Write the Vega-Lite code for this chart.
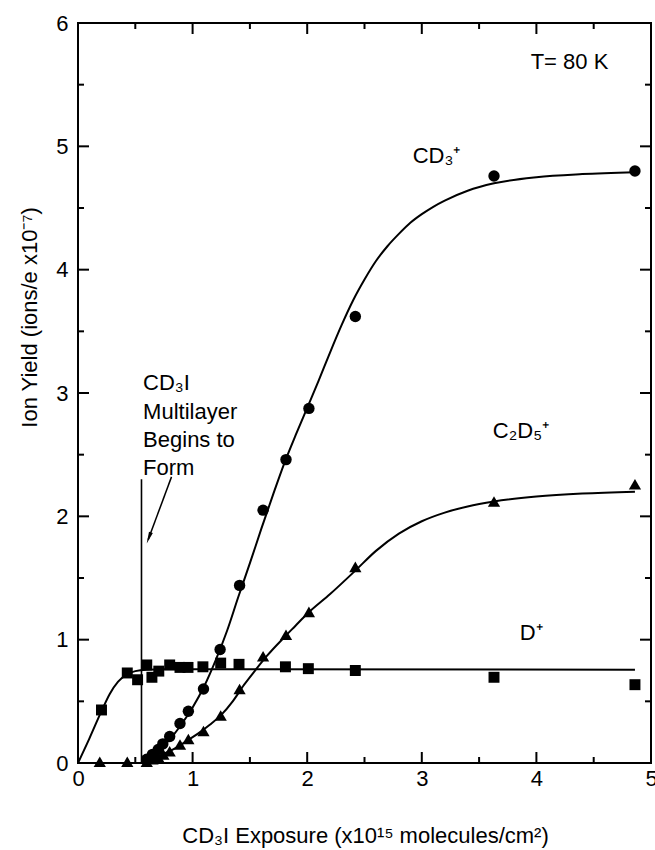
{
  "$schema": "https://vega.github.io/schema/vega-lite/v6.json",
  "width": 573,
  "height": 740,
  "autosize": {"type": "none"},
  "padding": {"left": 78, "top": 23, "right": 4, "bottom": 87},
  "background": "white",
  "config": {
    "view": {"stroke": "black", "strokeWidth": 2},
    "font": "Liberation Sans",
    "axis": {
      "grid": false,
      "domain": false,
      "ticks": false,
      "labelFlush": false,
      "labelFont": "Liberation Sans",
      "labelFontSize": 22,
      "labelColor": "black",
      "titleFont": "Liberation Sans",
      "titleFontSize": 22,
      "titleFontWeight": "normal",
      "titleColor": "black"
    }
  },
  "datasets": {
    "xt": [
      {"v": 0, "e": 0, "k": "major"}, {"v": 0.5, "e": 0, "k": "minor"}, {"v": 1, "e": 0, "k": "major"}, {"v": 1.5, "e": 0, "k": "minor"},
      {"v": 2, "e": 0, "k": "major"}, {"v": 2.5, "e": 0, "k": "minor"}, {"v": 3, "e": 0, "k": "major"}, {"v": 3.5, "e": 0, "k": "minor"},
      {"v": 4, "e": 0, "k": "major"}, {"v": 4.5, "e": 0, "k": "minor"}, {"v": 5, "e": 0, "k": "major"},
      {"v": 0, "e": 6, "k": "major"}, {"v": 0.5, "e": 6, "k": "minor"}, {"v": 1, "e": 6, "k": "major"}, {"v": 1.5, "e": 6, "k": "minor"},
      {"v": 2, "e": 6, "k": "major"}, {"v": 2.5, "e": 6, "k": "minor"}, {"v": 3, "e": 6, "k": "major"}, {"v": 3.5, "e": 6, "k": "minor"},
      {"v": 4, "e": 6, "k": "major"}, {"v": 4.5, "e": 6, "k": "minor"}, {"v": 5, "e": 6, "k": "major"}
    ],
    "yt": [
      {"v": 0, "e": 0, "k": "major"}, {"v": 0.5, "e": 0, "k": "minor"}, {"v": 1, "e": 0, "k": "major"}, {"v": 1.5, "e": 0, "k": "minor"},
      {"v": 2, "e": 0, "k": "major"}, {"v": 2.5, "e": 0, "k": "minor"}, {"v": 3, "e": 0, "k": "major"}, {"v": 3.5, "e": 0, "k": "minor"},
      {"v": 4, "e": 0, "k": "major"}, {"v": 4.5, "e": 0, "k": "minor"}, {"v": 5, "e": 0, "k": "major"}, {"v": 5.5, "e": 0, "k": "minor"},
      {"v": 6, "e": 0, "k": "major"},
      {"v": 0, "e": 5, "k": "major"}, {"v": 0.5, "e": 5, "k": "minor"}, {"v": 1, "e": 5, "k": "major"}, {"v": 1.5, "e": 5, "k": "minor"},
      {"v": 2, "e": 5, "k": "major"}, {"v": 2.5, "e": 5, "k": "minor"}, {"v": 3, "e": 5, "k": "major"}, {"v": 3.5, "e": 5, "k": "minor"},
      {"v": 4, "e": 5, "k": "major"}, {"v": 4.5, "e": 5, "k": "minor"}, {"v": 5, "e": 5, "k": "major"}, {"v": 5.5, "e": 5, "k": "minor"},
      {"v": 6, "e": 5, "k": "major"}
    ],
    "dplus": [
      {"x": 0.205, "y": 0.43}, {"x": 0.43, "y": 0.73}, {"x": 0.52, "y": 0.675},
      {"x": 0.6, "y": 0.795}, {"x": 0.645, "y": 0.695}, {"x": 0.705, "y": 0.745},
      {"x": 0.8, "y": 0.795}, {"x": 0.89, "y": 0.775}, {"x": 0.96, "y": 0.775},
      {"x": 1.09, "y": 0.78}, {"x": 1.245, "y": 0.81}, {"x": 1.405, "y": 0.8},
      {"x": 1.81, "y": 0.78}, {"x": 2.01, "y": 0.765}, {"x": 2.42, "y": 0.75},
      {"x": 3.63, "y": 0.695}, {"x": 4.86, "y": 0.635}
    ],
    "cd3": [
      {"x": 0.6, "y": 0.03}, {"x": 0.65, "y": 0.07}, {"x": 0.7, "y": 0.11},
      {"x": 0.74, "y": 0.155}, {"x": 0.8, "y": 0.215}, {"x": 0.89, "y": 0.32},
      {"x": 0.963, "y": 0.42}, {"x": 1.095, "y": 0.6}, {"x": 1.24, "y": 0.92},
      {"x": 1.41, "y": 1.44}, {"x": 1.615, "y": 2.05}, {"x": 1.815, "y": 2.46},
      {"x": 2.015, "y": 2.875}, {"x": 2.42, "y": 3.62}, {"x": 3.63, "y": 4.76},
      {"x": 4.86, "y": 4.8}
    ],
    "c2d5": [
      {"x": 0.19, "y": 0.01}, {"x": 0.43, "y": 0.01}, {"x": 0.6, "y": 0.01},
      {"x": 0.65, "y": 0.03}, {"x": 0.7, "y": 0.05}, {"x": 0.745, "y": 0.07},
      {"x": 0.8, "y": 0.095}, {"x": 0.89, "y": 0.15}, {"x": 0.963, "y": 0.195},
      {"x": 1.095, "y": 0.26}, {"x": 1.245, "y": 0.385}, {"x": 1.41, "y": 0.6},
      {"x": 1.615, "y": 0.865}, {"x": 1.815, "y": 1.04}, {"x": 2.015, "y": 1.225},
      {"x": 2.42, "y": 1.59}, {"x": 3.63, "y": 2.12}, {"x": 4.86, "y": 2.26}
    ],
    "curves": [
      {"s": "D", "x": 0, "y": 0}, {"s": "D", "x": 0.1, "y": 0.2}, {"s": "D", "x": 0.2, "y": 0.41},
      {"s": "D", "x": 0.277, "y": 0.56}, {"s": "D", "x": 0.35, "y": 0.66}, {"s": "D", "x": 0.42, "y": 0.715},
      {"s": "D", "x": 0.5, "y": 0.745}, {"s": "D", "x": 0.6, "y": 0.757}, {"s": "D", "x": 0.75, "y": 0.76},
      {"s": "D", "x": 1.0, "y": 0.76}, {"s": "D", "x": 4.86, "y": 0.757},
      {"s": "CD3", "x": 0.55, "y": 0}, {"s": "CD3", "x": 0.62, "y": 0.03}, {"s": "CD3", "x": 0.7, "y": 0.1},
      {"s": "CD3", "x": 0.8, "y": 0.19}, {"s": "CD3", "x": 0.9, "y": 0.31}, {"s": "CD3", "x": 1.0, "y": 0.45},
      {"s": "CD3", "x": 1.1, "y": 0.62}, {"s": "CD3", "x": 1.2, "y": 0.83}, {"s": "CD3", "x": 1.3, "y": 1.07},
      {"s": "CD3", "x": 1.4, "y": 1.35}, {"s": "CD3", "x": 1.5, "y": 1.62}, {"s": "CD3", "x": 1.6, "y": 1.9},
      {"s": "CD3", "x": 1.7, "y": 2.17}, {"s": "CD3", "x": 1.8, "y": 2.43}, {"s": "CD3", "x": 1.9, "y": 2.66},
      {"s": "CD3", "x": 2.0, "y": 2.88}, {"s": "CD3", "x": 2.1, "y": 3.1}, {"s": "CD3", "x": 2.2, "y": 3.33},
      {"s": "CD3", "x": 2.3, "y": 3.55}, {"s": "CD3", "x": 2.4, "y": 3.75}, {"s": "CD3", "x": 2.5, "y": 3.92},
      {"s": "CD3", "x": 2.6, "y": 4.07}, {"s": "CD3", "x": 2.7, "y": 4.19}, {"s": "CD3", "x": 2.8, "y": 4.29},
      {"s": "CD3", "x": 2.9, "y": 4.38}, {"s": "CD3", "x": 3.0, "y": 4.45}, {"s": "CD3", "x": 3.1, "y": 4.51},
      {"s": "CD3", "x": 3.2, "y": 4.56}, {"s": "CD3", "x": 3.4, "y": 4.64}, {"s": "CD3", "x": 3.63, "y": 4.7},
      {"s": "CD3", "x": 4.0, "y": 4.75}, {"s": "CD3", "x": 4.4, "y": 4.775}, {"s": "CD3", "x": 4.86, "y": 4.79},
      {"s": "C2D5", "x": 0.55, "y": 0}, {"s": "C2D5", "x": 0.65, "y": 0.03}, {"s": "C2D5", "x": 0.75, "y": 0.075},
      {"s": "C2D5", "x": 0.85, "y": 0.12}, {"s": "C2D5", "x": 0.95, "y": 0.18}, {"s": "C2D5", "x": 1.05, "y": 0.24},
      {"s": "C2D5", "x": 1.15, "y": 0.31}, {"s": "C2D5", "x": 1.25, "y": 0.39}, {"s": "C2D5", "x": 1.35, "y": 0.5},
      {"s": "C2D5", "x": 1.45, "y": 0.635}, {"s": "C2D5", "x": 1.55, "y": 0.755}, {"s": "C2D5", "x": 1.65, "y": 0.87},
      {"s": "C2D5", "x": 1.8, "y": 1.02}, {"s": "C2D5", "x": 1.9, "y": 1.115}, {"s": "C2D5", "x": 2.0, "y": 1.21},
      {"s": "C2D5", "x": 2.2, "y": 1.37}, {"s": "C2D5", "x": 2.42, "y": 1.56}, {"s": "C2D5", "x": 2.6, "y": 1.72},
      {"s": "C2D5", "x": 2.8, "y": 1.86}, {"s": "C2D5", "x": 3.0, "y": 1.96}, {"s": "C2D5", "x": 3.2, "y": 2.03},
      {"s": "C2D5", "x": 3.4, "y": 2.08}, {"s": "C2D5", "x": 3.63, "y": 2.12}, {"s": "C2D5", "x": 4.0, "y": 2.16},
      {"s": "C2D5", "x": 4.4, "y": 2.185}, {"s": "C2D5", "x": 4.86, "y": 2.2}
    ],
    "vline": [{"x": 0.554, "y": 0, "y2": 2.3}],
    "arrow": [{"x": 0.816, "y": 2.32, "o": 1}, {"x": 0.612, "y": 1.81, "o": 2}],
    "arrowhead": [{"x": 0.618, "y": 1.825}],
    "notes": [
      {"x": 3.95, "y": 5.68, "label": "T= 80 K"},
      {"x": 2.92, "y": 4.92, "label": "CD₃⁺"},
      {"x": 3.62, "y": 2.69, "label": "C₂D₅⁺"},
      {"x": 3.855, "y": 1.054, "label": "D⁺"},
      {"x": 0.568, "y": 3.079, "label": "CD₃I"},
      {"x": 0.568, "y": 2.848, "label": "Multilayer"},
      {"x": 0.568, "y": 2.622, "label": "Begins to"},
      {"x": 0.568, "y": 2.39, "label": "Form"}
    ]
  },
  "layer": [
    {
      "data": {"name": "dplus"},
      "mark": {"type": "point", "shape": "square", "filled": true, "color": "black", "opacity": 1, "size": 120},
      "encoding": {
        "x": {"field": "x", "type": "quantitative", "scale": {"domain": [0, 5], "nice": false, "zero": false},
              "axis": {"orient": "bottom", "values": [0, 1, 2, 3, 4, 5], "format": "d", "labelPadding": 5,
                       "title": "CD₃I Exposure (x10¹⁵ molecules/cm²)", "titleBaseline": "alphabetic", "titleY": 79, "titleX": 287}},
        "y": {"field": "y", "type": "quantitative", "scale": {"domain": [0, 6], "nice": false, "zero": false},
              "axis": {"orient": "left", "values": [0, 1, 2, 3, 4, 5, 6], "format": "d", "labelPadding": 10,
                       "title": "Ion Yield (ions/e x10⁻⁷)", "titleBaseline": "alphabetic", "titleAngle": 270, "titleX": -42, "titleY": 294}}
      }
    },
    {
      "data": {"name": "xt"},
      "mark": {"type": "tick", "orient": "vertical", "color": "black", "thickness": 2, "clip": true, "opacity": 1},
      "encoding": {
        "x": {"field": "v", "type": "quantitative", "scale": {"domain": [0, 5], "nice": false, "zero": false}, "axis": null},
        "y": {"field": "e", "type": "quantitative", "scale": {"domain": [0, 6], "nice": false, "zero": false}, "axis": null},
        "size": {"field": "k", "type": "nominal", "scale": {"domain": ["major", "minor"], "range": [22, 12]}, "legend": null}
      }
    },
    {
      "data": {"name": "yt"},
      "mark": {"type": "tick", "orient": "horizontal", "color": "black", "thickness": 2, "clip": true, "opacity": 1},
      "encoding": {
        "y": {"field": "v", "type": "quantitative", "scale": {"domain": [0, 6], "nice": false, "zero": false}, "axis": null},
        "x": {"field": "e", "type": "quantitative", "scale": {"domain": [0, 5], "nice": false, "zero": false}, "axis": null},
        "size": {"field": "k", "type": "nominal", "scale": {"domain": ["major", "minor"], "range": [24, 12]}, "legend": null}
      }
    },
    {
      "data": {"name": "curves"},
      "mark": {"type": "line", "color": "black", "strokeWidth": 2, "interpolate": "monotone"},
      "encoding": {
        "x": {"field": "x", "type": "quantitative", "scale": {"domain": [0, 5], "nice": false, "zero": false}, "axis": null},
        "y": {"field": "y", "type": "quantitative", "scale": {"domain": [0, 6], "nice": false, "zero": false}, "axis": null},
        "detail": {"field": "s"}
      }
    },
    {
      "data": {"name": "vline"},
      "mark": {"type": "rule", "color": "black", "strokeWidth": 1.6},
      "encoding": {
        "x": {"field": "x", "type": "quantitative", "scale": {"domain": [0, 5], "nice": false, "zero": false}, "axis": null},
        "y": {"field": "y", "type": "quantitative", "scale": {"domain": [0, 6], "nice": false, "zero": false}, "axis": null},
        "y2": {"field": "y2"}
      }
    },
    {
      "data": {"name": "cd3"},
      "mark": {"type": "point", "shape": "circle", "filled": true, "color": "black", "opacity": 1, "size": 130},
      "encoding": {
        "x": {"field": "x", "type": "quantitative", "scale": {"domain": [0, 5], "nice": false, "zero": false}, "axis": null},
        "y": {"field": "y", "type": "quantitative", "scale": {"domain": [0, 6], "nice": false, "zero": false}, "axis": null}
      }
    },
    {
      "data": {"name": "c2d5"},
      "mark": {"type": "point", "shape": "triangle-up", "filled": true, "color": "black", "opacity": 1, "size": 150},
      "encoding": {
        "x": {"field": "x", "type": "quantitative", "scale": {"domain": [0, 5], "nice": false, "zero": false}, "axis": null},
        "y": {"field": "y", "type": "quantitative", "scale": {"domain": [0, 6], "nice": false, "zero": false}, "axis": null}
      }
    },
    {
      "data": {"name": "arrow"},
      "mark": {"type": "line", "color": "black", "strokeWidth": 1.5},
      "encoding": {
        "x": {"field": "x", "type": "quantitative", "scale": {"domain": [0, 5], "nice": false, "zero": false}, "axis": null},
        "y": {"field": "y", "type": "quantitative", "scale": {"domain": [0, 6], "nice": false, "zero": false}, "axis": null},
        "order": {"field": "o"}
      }
    },
    {
      "data": {"name": "arrowhead"},
      "mark": {"type": "point", "shape": "M0,-1L0.35,1L-0.35,1Z", "filled": true, "color": "black", "opacity": 1, "size": 140, "angle": 200.7},
      "encoding": {
        "x": {"field": "x", "type": "quantitative", "scale": {"domain": [0, 5], "nice": false, "zero": false}, "axis": null},
        "y": {"field": "y", "type": "quantitative", "scale": {"domain": [0, 6], "nice": false, "zero": false}, "axis": null}
      }
    },
    {
      "data": {"name": "notes"},
      "mark": {"type": "text", "align": "left", "baseline": "middle", "font": "Liberation Sans", "fontSize": 22, "color": "black"},
      "encoding": {
        "x": {"field": "x", "type": "quantitative", "scale": {"domain": [0, 5], "nice": false, "zero": false}, "axis": null},
        "y": {"field": "y", "type": "quantitative", "scale": {"domain": [0, 6], "nice": false, "zero": false}, "axis": null},
        "text": {"field": "label"}
      }
    }
  ],
  "resolve": {"axis": {"x": "independent", "y": "independent"}}
}
